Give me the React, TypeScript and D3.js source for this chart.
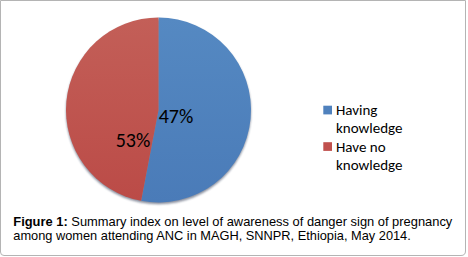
import React from "react";
import * as d3 from "d3";

const categories = ["Having knowledge", "Have no knowledge"];
const legendLines = [["Having", "knowledge"], ["Have no", "knowledge"]];
const sliceValues = [53, 47];
const sliceLabels = ["47%", "53%"];
const captionBold = "Figure 1:";
const captionLine1 = " Summary index on level of awareness of danger sign of pregnancy";
const captionLine2 = "among women attending ANC in MAGH, SNNPR, Ethiopia, May 2014.";

const W = 468;
const H = 257;
const colors = ["#4F81BD", "#C0504D"];
const gradTop = ["#5589c2", "#c35f58"];
const gradBottom = ["#4a7bb8", "#bb4b47"];

export default function App() {
  const cx = 158.5;
  const cy = 110;
  const r = 92.5;
  const pie = d3.pie<number>().sort(null).startAngle(0).endAngle(2 * Math.PI);
  const arcs = pie(sliceValues);
  const arc = d3.arc<d3.PieArcDatum<number>>().innerRadius(0).outerRadius(r);
  // label placement relative to the pie centre (manually placed in the original)
  const labelOffsets = [
    [17.5, 6],
    [-25.5, 30],
  ];
  const legendX = 323.3;
  const legendY0 = 105.7;
  const legendStep = 36.5;
  const sq = 8.7;
  const lineH = 18.2;
  return (
    <svg
      width={W}
      height={H}
      style={{ position: "absolute", left: 0, top: 0, background: "#fff" }}
    >
      <defs>
        {colors.map((c, i) => (
          <linearGradient key={i} id={`g${i}`} x1="0" y1="0" x2="0" y2="1">
            <stop offset="0%" stopColor={gradTop[i]} />
            <stop offset="100%" stopColor={gradBottom[i]} />
          </linearGradient>
        ))}
        <filter id="blur" x="-10%" y="-10%" width="120%" height="120%">
          <feGaussianBlur stdDeviation="1.2" />
        </filter>
      </defs>
      <path
        d={`M0.5,0.5 H465.5 V251 Q465.5,255.5 461,255.5 H4 Q0.5,255.5 0.5,252 Z`}
        fill="#fff"
        stroke="#b4b4b4"
        strokeWidth={1}
      />
      <g transform={`translate(${cx},${cy})`}>
        <circle cx={0} cy={1.8} r={r} fill="#2a3550" opacity={0.55} filter="url(#blur)" />
        {arcs.map((a, i) => (
          <path key={categories[i]} d={arc(a) || ""} fill={`url(#g${i})`} />
        ))}
        {arcs.map((a, i) => (
          <text
            key={"l" + i}
            x={labelOffsets[i][0]}
            y={labelOffsets[i][1]}
            textAnchor="middle"
            dominantBaseline="central"
            fontFamily="Carlito, Calibri, Lato, sans-serif"
            fontSize={20}
            fill="#000"
          >
            {sliceLabels[i]}
          </text>
        ))}
      </g>
      {categories.map((c, i) => (
        <g key={c} transform={`translate(${legendX},${legendY0 + i * legendStep})`}>
          <rect width={sq} height={sq} fill={colors[i]} />
          {legendLines[i].map((t, j) => (
            <text
              key={j}
              x={12.7}
              y={9.6 + j * lineH}
              fontFamily="Carlito, Calibri, Lato, sans-serif"
              fontSize={15}
              fill="#000"
            >
              {t}
            </text>
          ))}
        </g>
      ))}
      <text
        x={13.3}
        y={226}
        fontFamily="'Liberation Sans', Arial, sans-serif"
        fontSize={13}
        fill="#000"
        textLength={439}
        lengthAdjust="spacingAndGlyphs"
      >
        <tspan fontWeight="bold">{captionBold}</tspan>
        <tspan>{captionLine1}</tspan>
      </text>
      <text
        x={13.3}
        y={240.3}
        fontFamily="'Liberation Sans', Arial, sans-serif"
        fontSize={13}
        fill="#000"
        textLength={397.5}
        lengthAdjust="spacingAndGlyphs"
      >
        {captionLine2}
      </text>
    </svg>
  );
}
